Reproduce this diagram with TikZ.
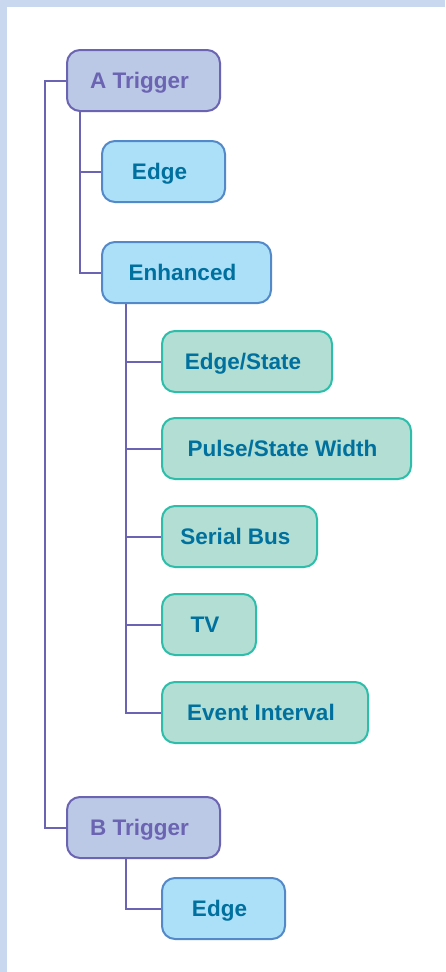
\documentclass[tikz,border=0pt]{standalone}
\usepackage{fontspec}
\setmainfont{Liberation Sans}
\definecolor{framebg}{HTML}{C9D7EF}
\definecolor{trigfill}{HTML}{BCC9E6}
\definecolor{trigline}{HTML}{6B64B2}
\definecolor{modefill}{HTML}{ACE0F9}
\definecolor{modeline}{HTML}{5389C8}
\definecolor{subfill}{HTML}{B2DED3}
\definecolor{subline}{HTML}{2CBEAA}
\definecolor{labeltext}{HTML}{00709E}
\tikzset{
  box/.style={rounded corners=13pt, line width=2pt, minimum height=61pt, anchor=west,
    inner sep=0pt, text height=16pt, text depth=0pt,
    execute at begin node={\kern-8pt},
    font=\fontsize{22.5}{26}\selectfont\bfseries},
  trigbox/.style={box, fill=trigfill, draw=trigline, text=trigline},
  modebox/.style={box, fill=modefill, draw=modeline, text=labeltext},
  subbox/.style={box, fill=subfill, draw=subline, text=labeltext},
  link/.style={line width=2pt, draw=trigline, line join=miter},
}

\begin{document}
\begin{tikzpicture}[x=1pt, y=-1pt]
\useasboundingbox (0,0) rectangle (445,972);
\fill[framebg] (0,0) rectangle (445,972);
\fill[white] (7,7) rectangle (445,972);
\node[trigbox, minimum width=153pt] (atrig) at (66,80.5) {A Trigger};
\node[modebox, minimum width=123pt] (edgea) at (101,171.5) {Edge};
\node[modebox, minimum width=169pt] (enh) at (101,272.5) {Enhanced};
\node[subbox, minimum width=170pt] (es) at (161,361.5) {Edge/State};
\node[subbox, minimum width=249pt] (psw) at (161,448.5) {Pulse/State Width};
\node[subbox, minimum width=155pt] (sb) at (161,536.5) {Serial Bus};
\node[subbox, minimum width=94pt] (tv) at (161,624.5) {TV};
\node[subbox, minimum width=206pt] (ei) at (161,712.5) {Event Interval};
\node[trigbox, minimum width=153pt] (btrig) at (66,827.5) {B Trigger};
\node[modebox, minimum width=123pt] (edgeb) at (161,908.5) {Edge};
\draw[link] (atrig.west) -- ++(-21,0) |- (btrig.west);
\draw[link] ([xshift=14pt]atrig.south west) |- (edgea.west);
\draw[link] ([xshift=14pt]atrig.south west) |- (enh.west);
\foreach \n in {es,psw,sb,tv,ei}
  \draw[link] ([xshift=25pt]enh.south west) |- (\n.west);
\draw[link] ([xshift=60pt]btrig.south west) |- (edgeb.west);
\end{tikzpicture}
\end{document}
